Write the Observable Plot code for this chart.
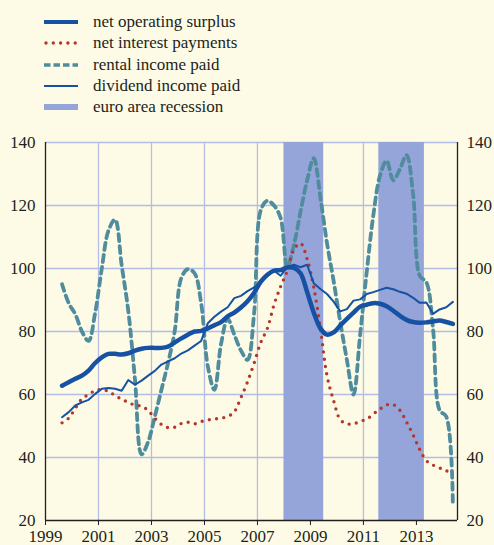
<!DOCTYPE html>
<html><head><meta charset="utf-8">
<script src="https://cdn.jsdelivr.net/npm/d3@7"></script>
<script src="https://cdn.jsdelivr.net/npm/@observablehq/plot@0.6"></script>
<style>
html,body{margin:0;padding:0;background:#fdfbe6;}
body{width:494px;height:545px;overflow:hidden;font-family:"Liberation Serif",Tinos,"Times New Roman",Times,"DejaVu Serif","Noto Serif",serif;color:#231f20;}
#legend{position:relative;height:120px;}
.row{position:absolute;left:44px;height:20px;display:flex;align-items:center;font-size:17px;white-space:nowrap;}
.row svg{display:block;margin-right:15px;}
</style>
</head><body>
<div id="legend"></div>
<div id="chart"></div>
<script>
// quarterly series, first quarter 1999Q3 (plotted mid-quarter)
const firstQuarter = 1999.625;
const surplus = [62.8,63.9,65,66,67.6,70,71.8,72.9,72.9,72.7,73.1,73.9,74.5,74.8,74.8,74.8,75.2,76.5,77.8,79,80,80.2,81,82,83,84.8,86,87.6,89.6,92.3,95.8,98,99.3,99.5,100.3,100.2,98.5,92.5,86,81,79,79.7,81.9,84,86,87.9,88.5,89,88.8,88,86.6,85,83.7,83,82.8,82.9,83.2,83.5,83,82.4];
const interest = [51,52.5,55.6,58.6,60,61.2,61.6,61,59.7,58.5,57.5,56.6,56.3,54.9,52.5,50.5,49.5,49.6,50.8,51.2,50.7,51.4,51.9,52.2,52.5,53,54.5,59,64,70,76.5,81,88.5,94.3,99.2,106,108,103,94,81,66,58,52,50.7,50.7,51.5,52.2,53.8,55.4,56.7,56.8,55,51.3,47.2,42.5,39,37.6,36.7,35.8,35];
const rental = [95,89,85.5,80,77,86,100,112,115.5,101,86.5,65,41,45,53,61.5,70,80,97,99.8,98.5,89,69,61.5,76,84,79,74,71,86,118.5,121.5,120,116,100.5,107.5,118,128,135,122.6,108,96,83,71,60,79,99,117,129.5,134.2,128,131.5,136,123.6,97.7,95.6,81,55,53,25];
const dividend = [52.8,54.4,56.5,57.5,58.3,60.2,61.8,62.1,61.8,61.2,64.6,63.1,64.4,66,67.5,69.5,70.5,71.5,73,74,75.5,77,82.6,84.7,86.3,87.7,90.6,91.3,92.8,94,95.2,98.2,99.3,97.7,100.5,101.2,100.4,101.2,95.3,93.5,91.9,89.5,86.4,87.1,89.8,90.2,91.9,92.5,93.2,93.9,93.4,92.6,92,90.7,89.1,89.2,85.6,87,87.7,89.4];
const recessionStart = [2008.0, 2011.58];
const recessionEnd = [2009.5, 2013.3];
const xTicks = [1999,2001,2003,2005,2007,2009,2011,2013];
const yTicks = [20,40,60,80,100,120,140];
const legendLabels = ["net operating surplus","net interest payments","rental income paid","dividend income paid","euro area recession"];

const BLUE = "#1651a4", RED = "#b5362b", TEAL = "#4f8c9d", BAND = "#95a4d9", GRID = "#b4bde6", INK = "#231f20";
const FONT = "'Liberation Serif', Tinos, 'Times New Roman', Times, 'DejaVu Serif', 'Noto Serif', serif";

const rows = surplus.map((v, i) => ({
  t: firstQuarter + i * 0.25,
  surplus: v, interest: interest[i], rental: rental[i], dividend: dividend[i]
}));
const recessions = recessionStart.map((s, i) => ({start: s, end: recessionEnd[i]}));

// legend
const swatches = [
  s => s.append("line").attr("x1",0).attr("x2",34).attr("y1",6).attr("y2",6).attr("stroke",BLUE).attr("stroke-width",4),
  s => s.append("line").attr("x1",2).attr("x2",34).attr("y1",6).attr("y2",6).attr("stroke",RED).attr("stroke-width",3.4).attr("stroke-linecap","round").attr("stroke-dasharray","0,7.3"),
  s => s.append("line").attr("x1",0).attr("x2",34).attr("y1",6).attr("y2",6).attr("stroke",TEAL).attr("stroke-width",3.6).attr("stroke-dasharray","6.5,3"),
  s => s.append("line").attr("x1",0).attr("x2",34).attr("y1",6).attr("y2",6).attr("stroke",BLUE).attr("stroke-width",2),
  s => s.append("rect").attr("x",0).attr("y",3).attr("width",34).attr("height",6).attr("fill",BAND)
];
const leg = d3.select("#legend");
legendLabels.forEach((label, i) => {
  const row = leg.append("div").attr("class","row").style("top", (12 + i * 21.3) + "px");
  const svg = row.append("svg").attr("width",34).attr("height",12);
  swatches[i](svg);
  row.append("span").text(label);
});

const chart = Plot.plot({
  width: 494,
  height: 425,
  marginTop: 22,
  marginBottom: 25,
  marginLeft: 45,
  marginRight: 37,
  style: {background: "transparent", fontFamily: FONT, fontSize: "17px", color: INK, overflow: "visible"},
  x: {domain: [1999, 2014.55], label: null},
  y: {domain: [20, 140], label: null},
  marks: [
    Plot.ruleY(yTicks.filter(v => v > 20), {stroke: GRID, strokeWidth: 1.3}),
    Plot.ruleX(xTicks.filter(v => v > 1999), {stroke: GRID, strokeWidth: 1.3}),
    Plot.rect(recessions, {x1: "start", x2: "end", fill: BAND}),
    Plot.line(rows, {x: "t", y: "rental", stroke: TEAL, strokeWidth: 3.8, strokeDasharray: "7,5", curve: "catmull-rom"}),
    Plot.line(rows, {x: "t", y: "interest", stroke: RED, strokeWidth: 3.4, strokeLinecap: "round", strokeDasharray: "0,7.3", curve: "catmull-rom"}),
    Plot.line(rows, {x: "t", y: "dividend", stroke: BLUE, strokeWidth: 2}),
    Plot.line(rows, {x: "t", y: "surplus", stroke: BLUE, strokeWidth: 4.5, curve: "catmull-rom"}),
    Plot.ruleX([1999, 2014.55], {stroke: INK, strokeWidth: 1.3}),
    Plot.ruleY([20], {stroke: INK, strokeWidth: 1.3}),
    Plot.axisX({ticks: xTicks, tickFormat: d => String(d), tickSize: 5, tickPadding: 4, stroke: INK, fill: INK, label: null}),
    Plot.axisY({anchor: "left", ticks: yTicks, tickSize: 0, tickPadding: 10, fill: INK, label: null}),
    Plot.axisY({anchor: "right", ticks: yTicks, tickSize: 0, tickPadding: 9, fill: INK, label: null})
  ]
});
document.getElementById("chart").appendChild(chart);
</script>
</body></html>
